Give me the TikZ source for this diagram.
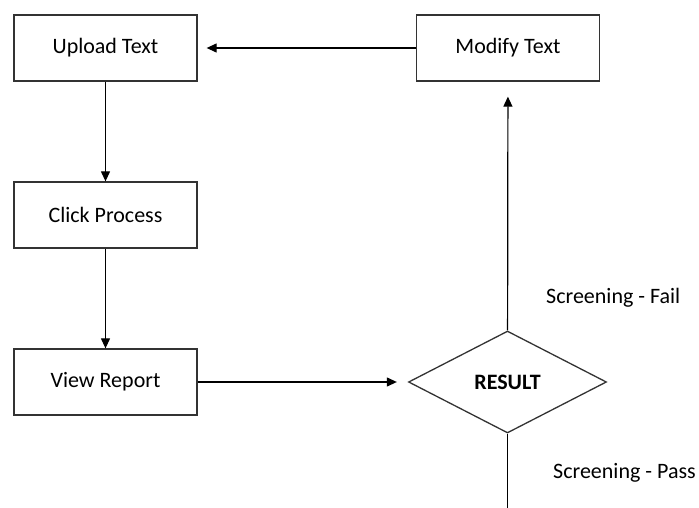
\documentclass[tikz,border=0pt]{standalone}
\usepackage{fontspec}
\setmainfont{Carlito}
\usetikzlibrary{positioning}
\usetikzlibrary{shapes.geometric}
\usetikzlibrary{arrows.meta}
\tikzset{stepbox/.style={draw=black!80,line width=1.3pt,minimum width=183pt,minimum height=66pt,inner sep=0pt,font=\fontsize{22}{26}\selectfont}}
\tikzset{decision/.style={draw=black!80,line width=1.3pt,diamond,minimum width=198pt,minimum height=102pt,inner sep=0pt,font=\fontsize{22}{26}\selectfont\bfseries}}
\tikzset{lbl/.style={anchor=west,inner sep=0pt,font=\fontsize{22}{26}\selectfont}}
\tikzset{>={Triangle[length=10pt,width=9pt]}}

\begin{document}
\begin{tikzpicture}[x=1pt,y=-1pt]
\useasboundingbox (0,0) rectangle (699,508);
\begin{scope}[on grid]
\node[stepbox] (upload) at (105.5, 48) {Upload Text};
\node[stepbox] (click) [below = 167pt of upload] {Click Process};
\node[stepbox] (view) [below = 167pt of click] {View Report};
\node[stepbox] (modify) [right = 402.5pt of upload] {Modify Text};
\node[decision] (result) at (507.5, 382) {RESULT};
\end{scope}

\node[lbl] (fail) at (546, 298) {Screening - Fail};
\node[lbl] (pass) at (553, 473) {Screening - Pass};
\coordinate (out) at (507.5, 508);

\draw[->,line width=1.2pt] (upload) -- (click);
\draw[->,line width=1.2pt] (click) -- (view);
\draw[->,line width=1.2pt,shorten >=11pt] (view) -- (result);
\draw[->,line width=1.2pt,shorten >=15pt] (result) -- (modify);
\draw[->,line width=1.2pt,shorten >=9pt] (modify) -- (upload);
\draw[line width=1.2pt] (result) -- (out);
\end{tikzpicture}
\end{document}
